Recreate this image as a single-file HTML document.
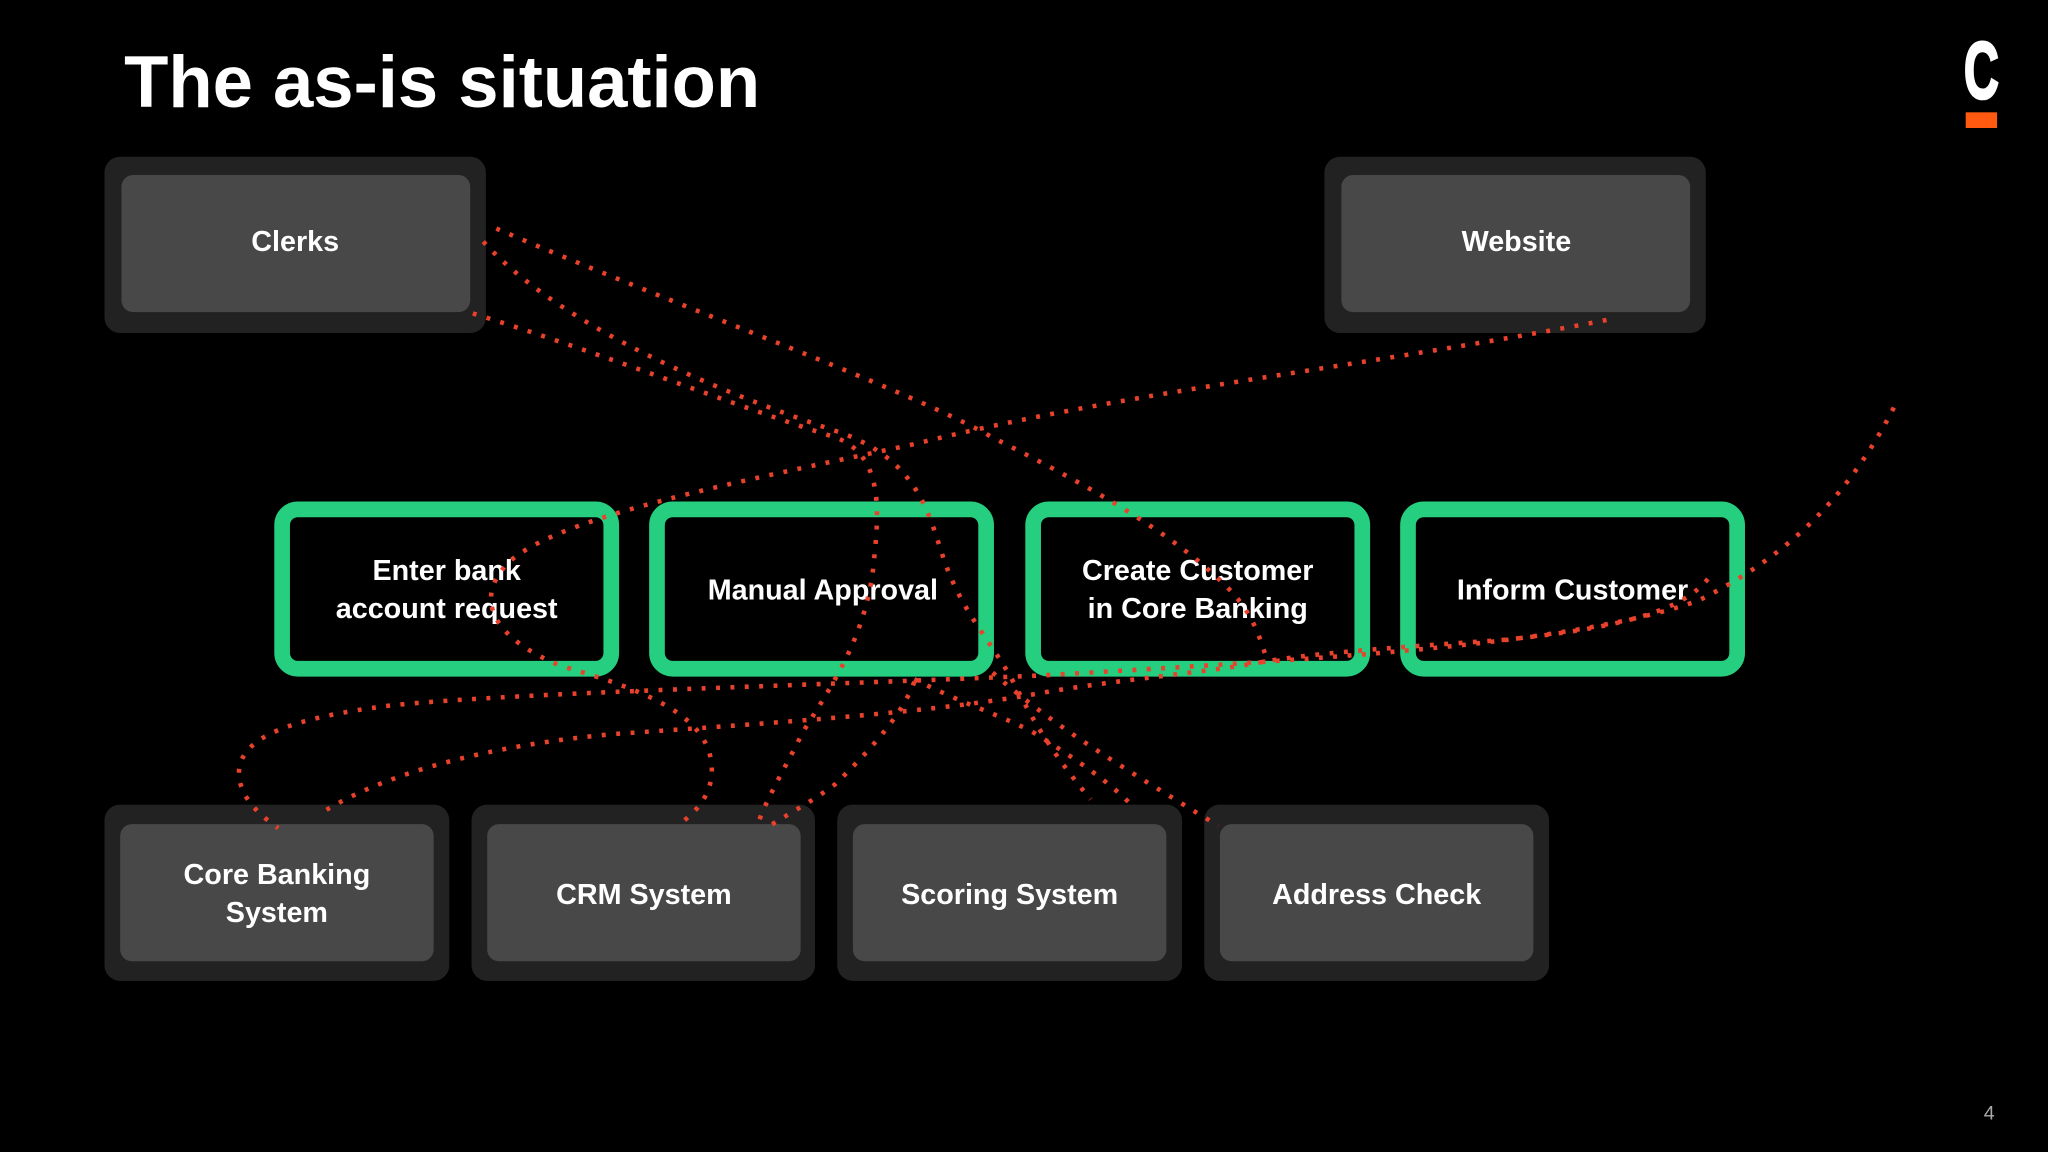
<!DOCTYPE html>
<html><head><meta charset="utf-8"><style>
html,body{margin:0;padding:0;background:#000;}
svg{display:block;}
text{font-family:"Liberation Sans",sans-serif;font-weight:bold;fill:#fff;}
</style></head><body>
<svg width="2048" height="1152" viewBox="0 0 1568 882" xmlns="http://www.w3.org/2000/svg">
<rect width="1568" height="882" fill="#000"/>
<text x="95" y="82" font-size="56" textLength="487" lengthAdjust="spacingAndGlyphs">The as-is situation</text>
<text x="1517" y="75" font-size="62" text-anchor="middle" stroke="#fff" stroke-width="2" transform="translate(1517 0) scale(0.6 1) translate(-1517 0)">C</text>
<rect x="1505" y="86" width="24" height="12" fill="#ff5a0f"/>
<text x="1523" y="857" font-size="15" style="font-weight:normal;fill:#aaa" text-anchor="middle">4</text>

<g>
<rect x="80" y="120" width="292" height="135" rx="12" fill="#222"/>
<rect x="93" y="134" width="267" height="105" rx="9" fill="#484848"/>
<text x="226" y="192" font-size="22" text-anchor="middle">Clerks</text>
<rect x="1014" y="120" width="292" height="135" rx="12" fill="#222"/>
<rect x="1027" y="134" width="267" height="105" rx="9" fill="#484848"/>
<text x="1161" y="192" font-size="22" text-anchor="middle">Website</text>
</g>

<g fill="#000" stroke="#26cf7f" stroke-width="12">
<rect x="216" y="390" width="252" height="122" rx="12"/>
<rect x="503" y="390" width="252" height="122" rx="12"/>
<rect x="791" y="390" width="252" height="122" rx="12"/>
<rect x="1078" y="390" width="252" height="122" rx="12"/>
</g>
<g font-size="22" text-anchor="middle">
<text x="342" y="444">Enter bank</text><text x="342" y="473">account request</text>
<text x="630" y="459">Manual Approval</text>
<text x="917" y="444">Create Customer</text><text x="917" y="473">in Core Banking</text>
<text x="1204" y="459">Inform Customer</text>
</g>

<g>
<rect x="80" y="616" width="264" height="135" rx="12" fill="#222"/>
<rect x="92" y="631" width="240" height="105" rx="9" fill="#484848"/>
<rect x="361" y="616" width="263" height="135" rx="12" fill="#222"/>
<rect x="373" y="631" width="240" height="105" rx="9" fill="#484848"/>
<rect x="641" y="616" width="264" height="135" rx="12" fill="#222"/>
<rect x="653" y="631" width="240" height="105" rx="9" fill="#484848"/>
<rect x="922" y="616" width="264" height="135" rx="12" fill="#222"/>
<rect x="934" y="631" width="240" height="105" rx="9" fill="#484848"/>
</g>
<g font-size="22" text-anchor="middle">
<text x="212" y="677">Core Banking</text><text x="212" y="706">System</text>
<text x="493" y="692">CRM System</text>
<text x="773" y="692">Scoring System</text>
<text x="1054" y="692">Address Check</text>
</g>

<g fill="none" stroke="#e8412c" stroke-width="3.5" stroke-dasharray="3 8">
<path d="M380 175 C520 235 700 300 760 335 C840 375 900 410 940 450 C960 470 965 490 970 505"/>
<path d="M370 185 C420 240 520 290 640 330 C700 350 710 390 720 420 C735 470 760 490 780 530 C800 570 825 600 835 612"/>
<path d="M362 240 C460 270 560 310 640 335 C680 350 672 400 668 440 C660 490 640 520 615 560 C600 590 585 615 580 632"/>
<path d="M1230 245 C1050 280 860 300 700 340 C560 370 430 395 390 430 C360 460 380 490 430 510 C500 530 545 550 545 590 C545 610 530 625 518 632"/>
<path d="M1450 312 C1410 390 1360 430 1300 460 C1200 495 1000 505 800 517 C620 525 400 530 300 540 C220 550 185 565 183 590 C182 610 200 625 213 634"/>
<path d="M250 620 C300 590 380 570 470 562 C600 553 720 545 800 530 C860 520 920 515 960 508 C1000 500 1080 495 1150 490 C1230 482 1290 470 1310 440"/>
<path d="M700 520 C740 540 760 545 790 560 C830 585 850 600 865 615"/>
<path d="M760 515 C800 550 840 575 880 600 C905 615 920 625 933 632"/>
<path d="M700 522 C690 550 660 580 640 600 C620 615 600 625 590 632"/>
</g>
</svg>
</body></html>
